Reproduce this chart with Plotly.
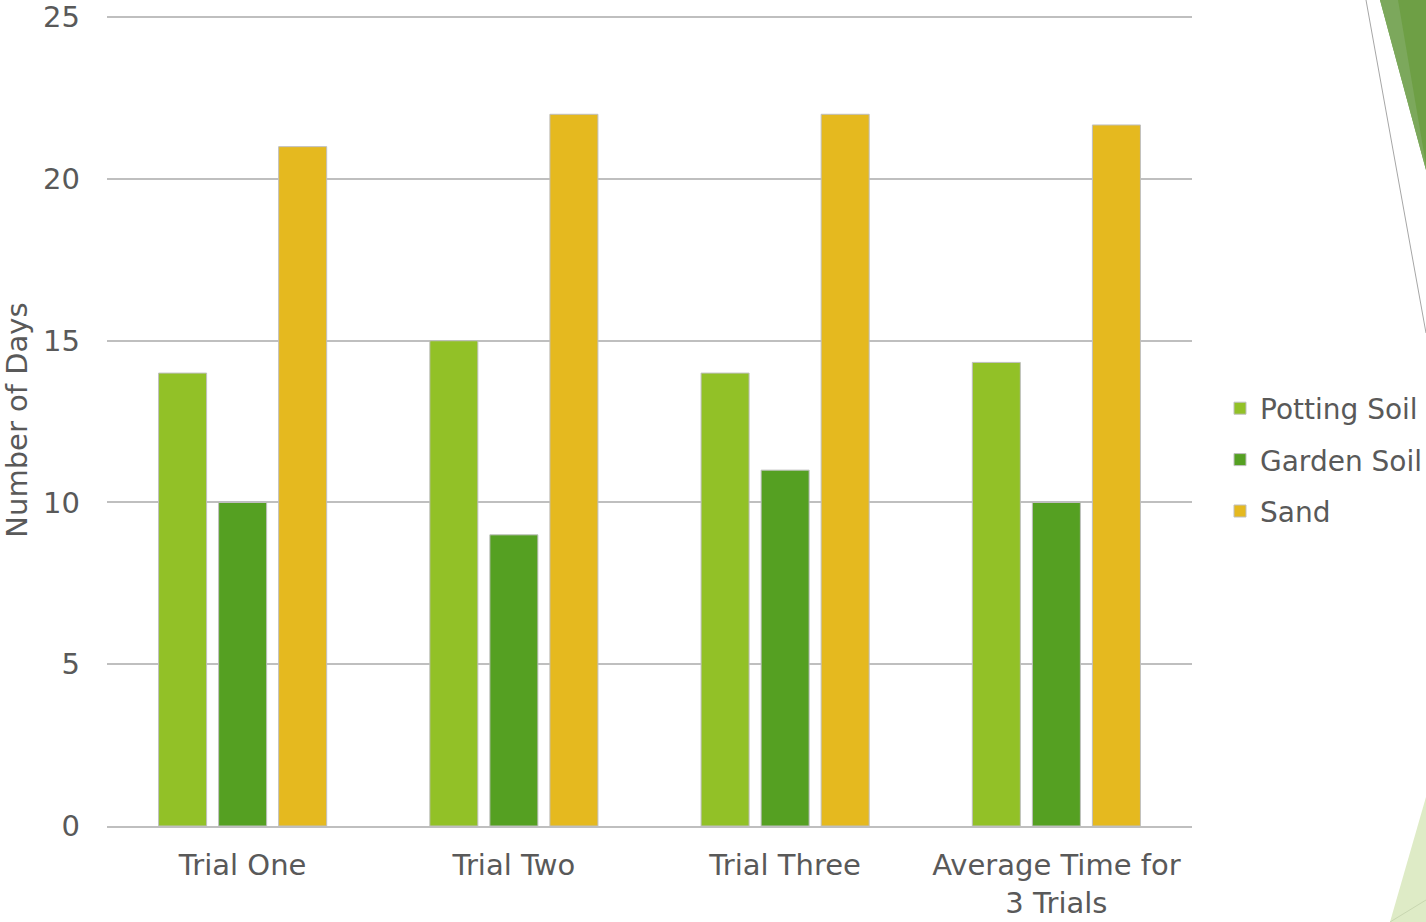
import plotly.graph_objects as go

categories = ["Trial One", "Trial Two", "Trial Three", "Average Time for<br>3 Trials"]
potting_soil = [14, 15, 14, 14.33]
garden_soil = [10, 9, 11, 10]
sand = [21, 22, 22, 21.67]
series_names = ["Potting Soil", "Garden Soil", "Sand"]
series_colors = ["#92C127", "#55A022", "#E5B91F"]
y_ticks = [0, 5, 10, 15, 20, 25]

W, H = 1426, 922
L, R, T, B = 107, 234, 14, 96
FONT = "DejaVu Sans"
TXT = "#595959"
FS = 29

fig = go.Figure()
for name, vals, col in zip(series_names, [potting_soil, garden_soil, sand], series_colors):
    fig.add_trace(go.Bar(
        x=categories, y=vals, name=name, legendgroup=name,
        marker=dict(color=col, line=dict(color="#BFBFBF", width=1)),
    ))

def px(x, y):
    return (x - L) / (W - L - R), 1 - (y - T) / (H - T - B)

def path(pts):
    s = ""
    for i, (x, y) in enumerate(pts):
        a, b = px(x, y)
        s += ("M" if i == 0 else "L") + f"{a:.5f},{b:.5f} "
    return s + "Z"

shapes = [
    dict(type="path", xref="paper", yref="paper", path=path([(1380, 0), (1426, 0), (1426, 170)]),
         fillcolor="#6E9F45", line=dict(width=0), layer="below"),
    dict(type="path", xref="paper", yref="paper", path=path([(1380, 0), (1398, 0), (1426, 165), (1426, 170)]),
         fillcolor="#7CA85C", line=dict(width=0), layer="below"),
    dict(type="line", xref="paper", yref="paper",
         x0=px(1366, 0)[0], y0=px(1366, 0)[1], x1=px(1426, 333)[0], y1=px(1426, 333)[1],
         line=dict(color="#A6A6A6", width=1)),
    dict(type="path", xref="paper", yref="paper", path=path([(1426, 797), (1426, 922), (1390, 922)]),
         fillcolor="#DEEBC6", line=dict(width=0), layer="below"),
    dict(type="line", xref="paper", yref="paper",
         x0=px(1390, 922)[0], y0=px(1390, 922)[1], x1=px(1426, 900)[0], y1=px(1426, 900)[1],
         line=dict(color="#C8D6B0", width=1)),
]

fig.update_layout(
    width=W, height=H,
    margin=dict(l=L, r=R, t=T, b=B, autoexpand=False),
    paper_bgcolor="white", plot_bgcolor="white",
    font=dict(family=FONT, color=TXT, size=FS),
    barmode="group", bargap=0.336, bargroupgap=0.2,
    showlegend=True,
    legend=dict(xref="container", yref="container", x=1220 / W, y=1 - 460 / H,
                xanchor="left", yanchor="middle",
                font=dict(size=28, color=TXT), tracegroupgap=12,
                itemwidth=30),
    shapes=shapes,
)
fig.update_xaxes(showline=True, linecolor="#BFBFBF", linewidth=2, automargin=False,
                 tickfont=dict(size=FS, color=TXT), ticks="", showgrid=False,
                 ticklabelstandoff=12)
fig.update_yaxes(range=[0, 25.1], tickvals=y_ticks, showgrid=True, gridcolor="#BFBFBF", gridwidth=2,
                 zeroline=False, showline=False, ticks="", ticklabelstandoff=26, automargin=False,
                 tickfont=dict(size=FS, color=TXT),
                 title=dict(text="Number of Days", font=dict(size=FS, color=TXT), standoff=10))

fig.write_html("out.html", config={"displayModeBar": False},
               post_script="document.body.style.margin='0';document.body.style.overflow='hidden';")
